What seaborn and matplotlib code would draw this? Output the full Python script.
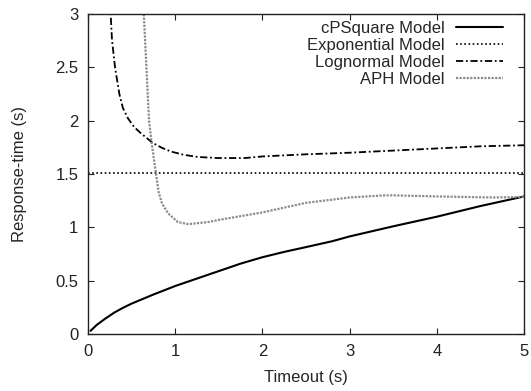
import matplotlib
matplotlib.use("Agg")
import matplotlib.pyplot as plt
import seaborn as sns

# cPSquare model (solid)
cps_x = [0.03, 0.1, 0.2, 0.3, 0.4, 0.5, 0.75, 1.0, 1.25, 1.5, 1.75, 2.0, 2.25, 2.5, 2.8, 3.0, 3.5, 4.0, 4.5, 5.0]
cps_y = [0.03, 0.085, 0.145, 0.20, 0.245, 0.285, 0.37, 0.45, 0.52, 0.59, 0.66, 0.72, 0.77, 0.815, 0.87, 0.915, 1.01, 1.10, 1.20, 1.29]

# Exponential model (flat)
exp_x = [0.0, 5.0]
exp_y = [1.51, 1.51]

# Lognormal model
logn_x = [0.25, 0.26, 0.275, 0.31, 0.36, 0.40, 0.46, 0.53, 0.61, 0.745, 0.85, 0.955, 1.1, 1.26, 1.49, 1.8, 2.0, 2.5, 3.0, 3.5, 4.0, 4.5, 5.0]
logn_y = [3.1, 3.0, 2.76, 2.5, 2.25, 2.12, 2.02, 1.94, 1.88, 1.79, 1.745, 1.71, 1.68, 1.66, 1.65, 1.65, 1.665, 1.685, 1.70, 1.72, 1.74, 1.76, 1.77]

# APH model (grey)
aph_x = [0.635, 0.64, 0.70, 0.73, 0.78, 0.81, 0.85, 0.92, 1.03, 1.15, 1.38, 1.5, 2.0, 2.5, 3.0, 3.4, 3.5, 4.0, 4.65, 5.0]
aph_y = [3.1, 3.0, 2.0, 1.79, 1.5, 1.33, 1.22, 1.13, 1.05, 1.03, 1.05, 1.07, 1.14, 1.23, 1.28, 1.30, 1.30, 1.29, 1.28, 1.285]

sns.set_style("ticks")
plt.rcParams['font.family'] = ['Liberation Sans', 'DejaVu Sans']

fig = plt.figure(figsize=(5.31, 3.91), dpi=100)
ax = fig.add_axes([0.1657, 0.1458, 0.8213, 0.8182])

sns.lineplot(x=cps_x, y=cps_y, ax=ax, color='black', linewidth=1.5, linestyle='-', label='cPSquare Model')
sns.lineplot(x=exp_x, y=exp_y, ax=ax, color='black', linewidth=1.2, linestyle=(0, (1, 1.5)), label='Exponential Model')
sns.lineplot(x=logn_x, y=logn_y, ax=ax, color='black', linewidth=1.3, linestyle=(0, (4, 1.5, 1, 1.5)), label='Lognormal Model')
sns.lineplot(x=aph_x, y=aph_y, ax=ax, color='#8c8c8c', linewidth=1.6, linestyle=(0, (1, 0.6)), label='APH Model')

ax.set_xlim(0, 5)
ax.set_ylim(0, 3)
ax.set_xticks([0, 1, 2, 3, 4, 5])
ax.set_xticklabels(['0', '1', '2', '3', '4', '5'])
ax.set_yticks([0, 0.5, 1, 1.5, 2, 2.5, 3])
ax.set_yticklabels(['0', '0.5', '1', '1.5', '2', '2.5', '3'])
ax.tick_params(direction='in', length=4, width=0.8, top=True, right=True, labelsize=12, colors='#222222', pad=7)
for s in ax.spines.values():
    s.set_visible(True)
    s.set_linewidth(1.0)
    s.set_color('#222222')

ax.set_xlabel('Timeout (s)', fontsize=12, labelpad=8)
ax.set_ylabel('Response-time (s)', fontsize=12, labelpad=20)

ax.legend(loc='upper right', bbox_to_anchor=(0.952, 0.978), frameon=False,
          markerfirst=False, fontsize=12, handlelength=2.8, labelspacing=0.12,
          handletextpad=0.7, borderpad=0, borderaxespad=0)

fig.savefig('out.png', dpi=100)
